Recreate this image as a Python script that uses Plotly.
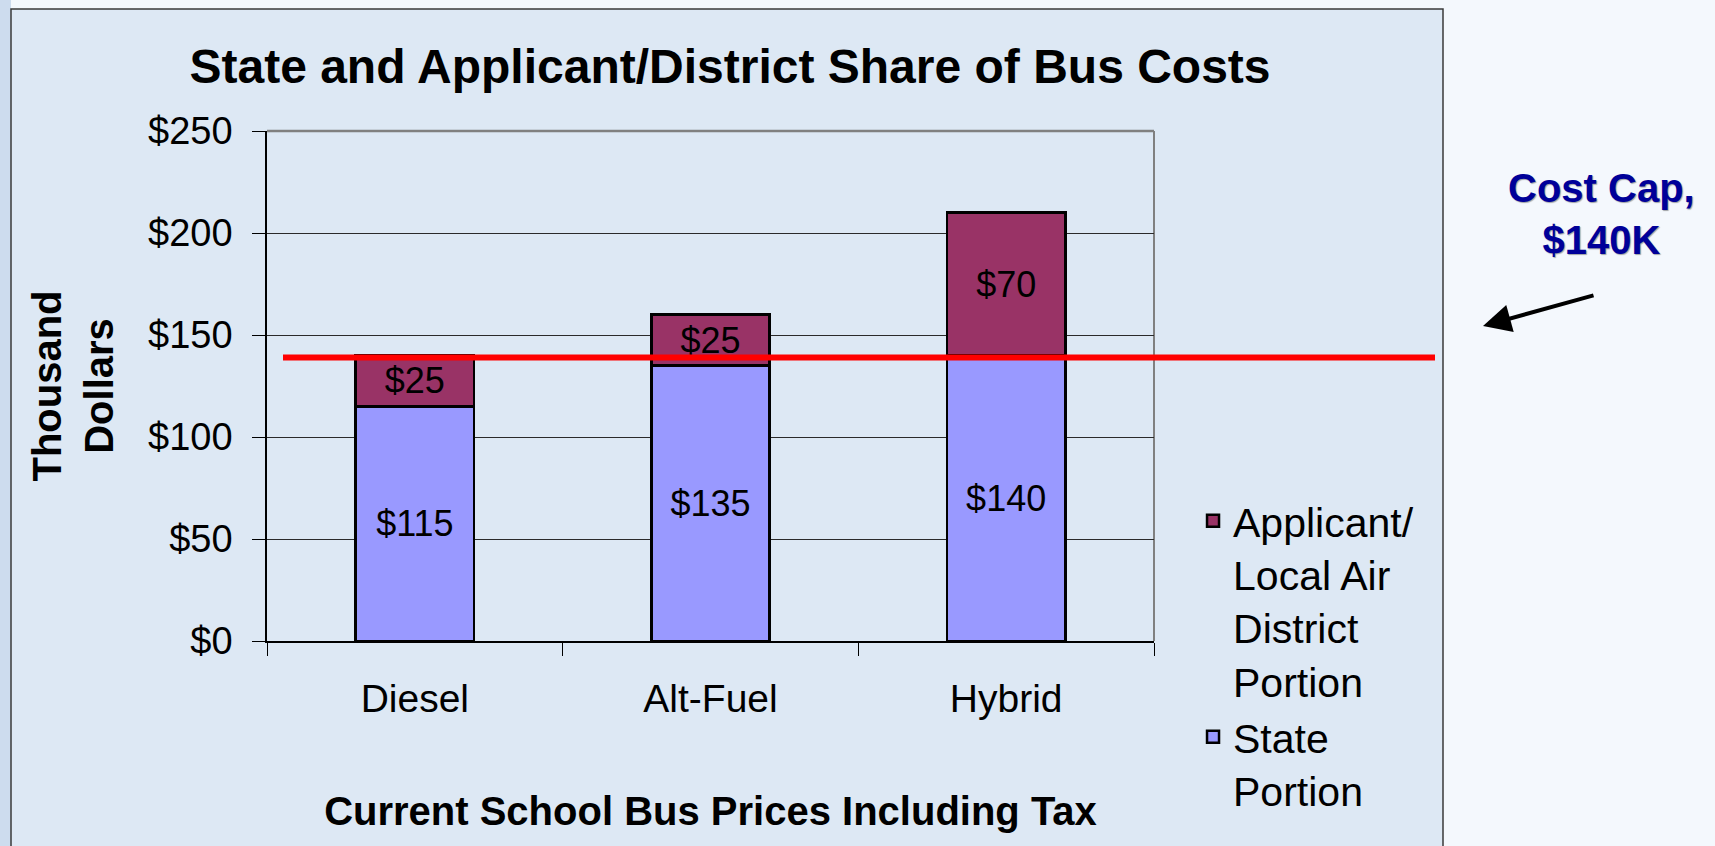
import plotly.graph_objects as go

# ---- data ----
categories = ["Diesel", "Alt-Fuel", "Hybrid"]
state_portion = [115, 135, 140]
applicant_portion = [25, 25, 70]
cost_cap_level = 139          # level at which the red cost-cap line is drawn
y_tick_values = [0, 50, 100, 150, 200, 250]
y_tick_labels = ["$0", "$50", "$100", "$150", "$200", "$250"]
state_name = "State<br>Portion"
applicant_name = "Applicant/<br>Local Air<br>District<br>Portion"

FONT = "Arial, 'Liberation Sans', sans-serif"
STATE_COLOR = "#9999FF"
APPLICANT_COLOR = "#993366"

fig = go.Figure()
fig.add_trace(go.Bar(
    name=state_name, x=categories, y=state_portion,
    marker=dict(color=STATE_COLOR, line=dict(color="black", width=2.5)),
    text=[f"${v}" for v in state_portion],
    textposition="inside", insidetextanchor="middle", textangle=0,
    constraintext="none",
    textfont=dict(family=FONT, size=36, color="black"),
))
fig.add_trace(go.Bar(
    name=applicant_name, x=categories, y=applicant_portion,
    marker=dict(color=APPLICANT_COLOR, line=dict(color="black", width=2.5)),
    text=[f"${v}" for v in applicant_portion],
    textposition="inside", insidetextanchor="middle", textangle=0,
    constraintext="none",
    textfont=dict(family=FONT, size=36, color="black"),
))

fig.update_layout(
    width=1715, height=846,
    margin=dict(l=267, r=561, t=131, b=205, pad=0),
    barmode="stack", bargap=0.6,
    paper_bgcolor="#f4f8fd",
    plot_bgcolor="rgba(0,0,0,0)",
    font=dict(family=FONT, color="black", size=38),
    title=dict(
        text="<b>State and Applicant/District Share of Bus Costs</b>",
        x=730 / 1715, xanchor="center", y=1 - 66 / 846, yanchor="middle",
        font=dict(family=FONT, size=48, color="black"),
    ),
    xaxis=dict(
        showline=True, linecolor="black", linewidth=2,
        ticks="outside", tickson="boundaries", ticklen=13,
        tickcolor="black", tickwidth=1,
        tickfont=dict(family=FONT, size=39, color="black"),
        ticklabelstandoff=22,
        title=dict(text="<b>Current School Bus Prices Including Tax</b>",
                   font=dict(family=FONT, size=40, color="black"), standoff=78),
        automargin=False,
    ),
    yaxis=dict(
        range=[0, 250], tickvals=y_tick_values, ticktext=y_tick_labels,
        showline=True, linecolor="black", linewidth=1.5,
        ticks="outside", ticklen=13, tickcolor="black", tickwidth=1,
        showgrid=True, gridcolor="#2a2a2a", gridwidth=1, zeroline=False,
        tickfont=dict(family=FONT, size=38, color="black"),
        ticklabelstandoff=12,
        title=dict(text="<b>Thousand<br>Dollars</b>",
                   font=dict(family=FONT, size=40, color="black"), standoff=22),
        automargin=False,
    ),
    legend=dict(
        x=1.044, y=0.301, xanchor="left", yanchor="top", valign="top",
        bgcolor="rgba(0,0,0,0)", traceorder="reversed",
        font=dict(family=FONT, size=41, color="black"),
    ),
    showlegend=True,
)

# slide panel background and frame
fig.add_shape(type="rect", xref="paper", yref="paper",
              x0=-0.35, x1=(11 - 267) / 887, y0=-0.5, y1=1.5,
              fillcolor="#cddcee", line=dict(width=0), layer="below")
fig.add_shape(type="rect", xref="paper", yref="paper",
              x0=(11 - 267) / 887, x1=(1443 - 267) / 887,
              y0=-0.45, y1=(641 - 9) / 510,
              fillcolor="#dde8f4", line=dict(color="#3a3a3a", width=1.5), layer="below")
# gray plot-area frame (top and right)
fig.add_shape(type="line", xref="paper", yref="paper", x0=0, x1=1, y0=1, y1=1,
              line=dict(color="#808080", width=2.5), layer="between")
fig.add_shape(type="line", xref="paper", yref="paper", x0=1, x1=1, y0=0, y1=1,
              line=dict(color="#808080", width=2), layer="between")
# red cost-cap line
fig.add_shape(type="line", xref="paper", yref="y",
              x0=(283 - 267) / 887, x1=(1435 - 267) / 887,
              y0=cost_cap_level, y1=cost_cap_level,
              line=dict(color="#ff0000", width=6), layer="above")

fig.add_annotation(
    text="<b>Cost Cap,<br>$140K</b>", xref="paper", yref="paper",
    x=(1601 - 267) / 887, y=(641 - 214) / 510, xanchor="center", yanchor="middle",
    showarrow=False,
    font=dict(family=FONT, size=40, color="#000099",
              shadow="1px 1px 1px rgba(0,0,0,0.35)"),
)
fig.add_annotation(
    text="", xref="paper", yref="paper",
    x=(1483 - 267) / 887, y=(641 - 326) / 510,
    ax=112, ay=-31, showarrow=True,
    arrowhead=2, arrowsize=1.4, arrowwidth=4, arrowcolor="black", standoff=0,
)

fig.write_html("out.html",
               config={"displayModeBar": False},
               post_script="document.body.style.margin='0';document.body.style.overflow='hidden';")
